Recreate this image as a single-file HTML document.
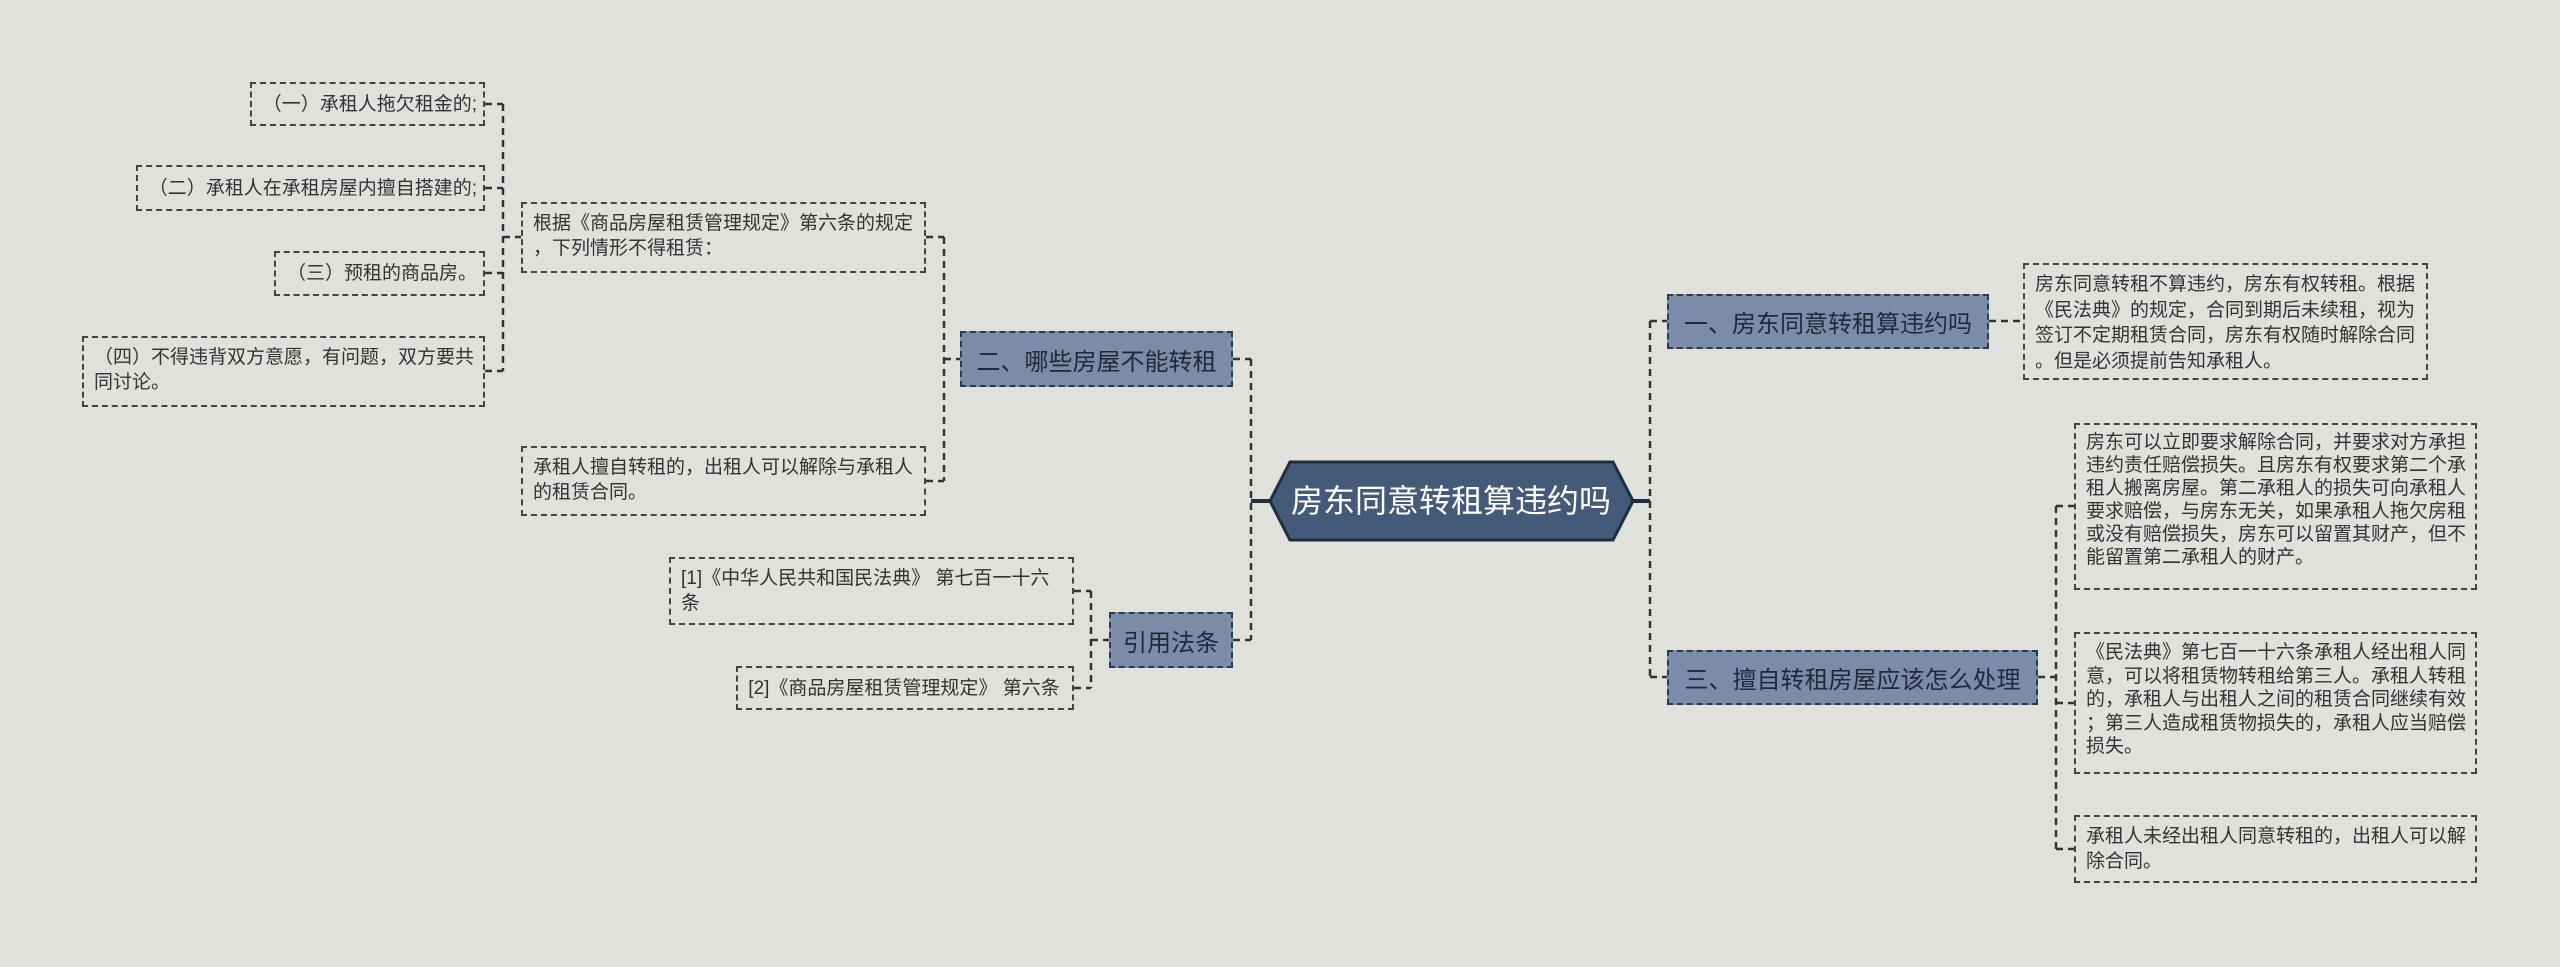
<!DOCTYPE html>
<html><head><meta charset="utf-8"><style>
html,body{margin:0;padding:0;}
body{width:2560px;height:967px;background:#e0e0dc;position:relative;overflow:hidden;font-family:"Liberation Sans","Noto Sans CJK SC",sans-serif;}
.b{position:absolute;box-sizing:border-box;border:2px dashed #444;color:#333;font-size:19px;line-height:25px;padding:7px 9px 7px 10px;word-break:break-all;line-break:anywhere;}
.n{position:absolute;box-sizing:border-box;border:2px dashed #2a3a50;background:#7a8ca8;color:#1e2a3a;font-size:24px;display:flex;align-items:center;justify-content:center;white-space:nowrap;}
.c{display:flex;align-items:center;white-space:nowrap;padding:0 6px 0 4px;overflow:visible;}
</style></head><body>
<svg width="2560" height="967" style="position:absolute;left:0;top:0">
<g stroke="#333" stroke-width="2.5" fill="none" stroke-dasharray="7,5">
<path d="M1251 359V640 M1233 359H1251 M1233 640H1251"/>
<path d="M1650 321V677 M1650 321H1667 M1650 677H1667"/>
<path d="M1989 321H2023"/>
<path d="M2056 506V849 M2038 677H2056 M2056 506H2074 M2056 703H2074 M2056 849H2074"/>
<path d="M944 237V481 M944 359H960 M926 237H944 M926 481H944"/>
<path d="M503 104V371 M503 237H521 M485 104H503 M485 188H503 M485 273H503 M485 371H503"/>
<path d="M1091 591V688 M1091 640H1109 M1074 591H1091 M1074 688H1091"/>
</g>
<path d="M1251 501H1270 M1633 501H1650" stroke="#1f2d3d" stroke-width="4"/>
<polygon points="1270,501 1290,462 1613,462 1633,501 1613,540 1290,540" fill="#445a78" stroke="#1f2d3d" stroke-width="3"/>
<text x="1451" y="512" fill="#fff" font-size="32" text-anchor="middle" font-family="Liberation Sans,Noto Sans CJK SC,sans-serif">房东同意转租算违约吗</text>
</svg>
<div class="n" style="left:1667px;top:294px;width:322px;height:55px">一、房东同意转租算违约吗</div>
<div class="n" style="left:1667px;top:650px;width:371px;height:55px">三、擅自转租房屋应该怎么处理</div>
<div class="n" style="left:960px;top:331px;width:273px;height:56px">二、哪些房屋不能转租</div>
<div class="n" style="left:1109px;top:612px;width:124px;height:56px">引用法条</div>
<div class="b" style="left:2023px;top:263px;width:405px;height:117px;line-height:25.5px">房东同意转租不算违约，房东有权转租。根据《民法典》的规定，合同到期后未续租，视为签订不定期租赁合同，房东有权随时解除合同。但是必须提前告知承租人。</div>
<div class="b" style="left:2074px;top:423px;width:403px;height:167px;line-height:23px;padding-top:6px">房东可以立即要求解除合同，并要求对方承担违约责任赔偿损失。且房东有权要求第二个承租人搬离房屋。第二承租人的损失可向承租人要求赔偿，与房东无关，如果承租人拖欠房租或没有赔偿损失，房东可以留置其财产，但不能留置第二承租人的财产。</div>
<div class="b" style="left:2074px;top:632px;width:403px;height:142px;line-height:23.5px">《民法典》第七百一十六条承租人经出租人同意，可以将租赁物转租给第三人。承租人转租的，承租人与出租人之间的租赁合同继续有效；第三人造成租赁物损失的，承租人应当赔偿损失。</div>
<div class="b" style="left:2074px;top:815px;width:403px;height:68px">承租人未经出租人同意转租的，出租人可以解除合同。</div>
<div class="b" style="left:521px;top:202px;width:405px;height:71px">根据《商品房屋租赁管理规定》第六条的规定，下列情形不得租赁：</div>
<div class="b" style="left:521px;top:446px;width:405px;height:70px">承租人擅自转租的，出租人可以解除与承租人的租赁合同。</div>
<div class="b c" style="left:250px;top:82px;width:235px;height:44px;justify-content:flex-end">（一）承租人拖欠租金的;</div>
<div class="b c" style="left:136px;top:165px;width:349px;height:46px;justify-content:flex-end">（二）承租人在承租房屋内擅自搭建的;</div>
<div class="b c" style="left:274px;top:251px;width:211px;height:45px;justify-content:flex-end">（三）预租的商品房。</div>
<div class="b" style="left:82px;top:336px;width:403px;height:71px">（四）不得违背双方意愿，有问题，双方要共同讨论。</div>
<div class="b" style="left:669px;top:557px;width:405px;height:68px;padding-right:20px">[1]《中华人民共和国民法典》 第七百一十六条</div>
<div class="b c" style="left:736px;top:666px;width:338px;height:44px;justify-content:center">[2]《商品房屋租赁管理规定》 第六条</div>
</body></html>
